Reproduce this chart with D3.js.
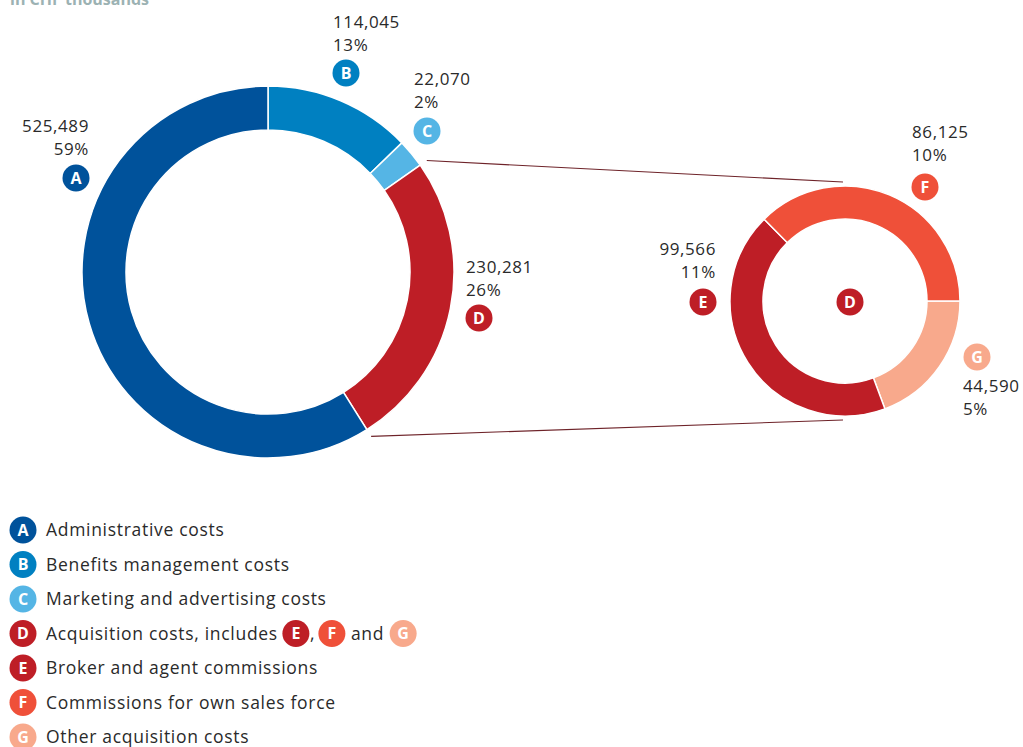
<!DOCTYPE html>
<html>
<head>
<meta charset="utf-8">
<script src="https://cdn.jsdelivr.net/npm/d3@7"></script>
<style>
  body { margin: 0; background: #fff; }
  svg { display: block; font-family: "Open Sans", "Noto Sans", sans-serif; }
  .val { font-size: 17px; fill: #2a2a2a; letter-spacing: 0.6px; }
  .legend text.lbl { font-size: 17.5px; fill: #2a2a2a; letter-spacing: 0.7px; }
</style>
</head>
<body>
<svg width="1023" height="747"></svg>
<script>
// data
const mainKeys = ["B", "C", "D", "A"];
const mainValues = [114045, 22070, 230281, 525489];
const mainPct = ["13%", "2%", "26%", "59%"];

const subKeys = ["G", "E", "F"];
const subValues = [44590, 99566, 86125];
const subPct = ["5%", "11%", "10%"];

const legendKeys = ["A", "B", "C", "D", "E", "F", "G"];
const legendNames = [
  "Administrative costs",
  "Benefits management costs",
  "Marketing and advertising costs",
  "Acquisition costs, includes",
  "Broker and agent commissions",
  "Commissions for own sales force",
  "Other acquisition costs"
];

const colors = {
  A: "#00529b", B: "#0080c1", C: "#55b5e5", D: "#be1e26",
  E: "#be1e26", F: "#ef5039", G: "#f8a98c"
};

const fmt = d3.format(",");
const svg = d3.select("svg");

// title (cut off at the top in the original)
svg.append("text")
  .attr("x", 10).attr("y", 5)
  .style("font-size", "16px").style("font-weight", 700)
  .style("fill", "#9cb2b3")
  .text("in CHF thousands");

function badge(parent, x, y, key) {
  const g = parent.append("g").attr("class", "badge")
    .attr("transform", `translate(${x},${y})`);
  g.append("circle").attr("r", 13.5).attr("fill", colors[key]);
  g.append("text")
    .attr("text-anchor", "middle")
    .attr("dy", "0.36em")
    .style("font-size", "16px")
    .style("font-weight", 700)
    .style("fill", "#fff")
    .text(key);
  return g;
}

// main donut
const main = {cx: 268, cy: 272, R: 186, r: 142};
const pie = d3.pie().sort(null).value(d => d.value);
const mainData = mainKeys.map((k, i) => ({key: k, value: mainValues[i], pct: mainPct[i]}));
const mainArcs = pie(mainData);
const arcMain = d3.arc().innerRadius(main.r).outerRadius(main.R);

const gMain = svg.append("g").attr("transform", `translate(${main.cx},${main.cy})`);
gMain.selectAll("path")
  .data(mainArcs)
  .enter().append("path")
    .attr("d", arcMain)
    .attr("fill", d => colors[d.data.key])
    .attr("stroke", "#fff")
    .attr("stroke-width", 1.5);

// sub donut (breakdown of D)
const sub = {cx: 845, cy: 301, R: 115, r: 82};
const subPie = d3.pie().sort(null).value(d => d.value)
  .startAngle(Math.PI / 2).endAngle(Math.PI / 2 + 2 * Math.PI);
const subData = subKeys.map((k, i) => ({key: k, value: subValues[i], pct: subPct[i]}));
const subArcs = subPie(subData);
const arcSub = d3.arc().innerRadius(sub.r).outerRadius(sub.R);

const gSub = svg.append("g").attr("transform", `translate(${sub.cx},${sub.cy})`);
gSub.selectAll("path")
  .data(subArcs)
  .enter().append("path")
    .attr("d", arcSub)
    .attr("fill", d => colors[d.data.key])
    .attr("stroke", "#fff")
    .attr("stroke-width", 1.5);

// connector lines from segment D to the sub donut
const dArc = mainArcs.find(d => d.data.key === "D");
const rOut = main.R + 8;
const conn = [
  [dArc.startAngle, -(sub.R + 4)],
  [dArc.endAngle, sub.R + 4]
];
svg.selectAll("line.conn")
  .data(conn)
  .enter().append("line")
    .attr("class", "conn")
    .attr("x1", d => main.cx + rOut * Math.sin(d[0]))
    .attr("y1", d => main.cy - rOut * Math.cos(d[0]))
    .attr("x2", sub.cx - 2)
    .attr("y2", d => sub.cy + d[1])
    .attr("stroke", "#6e2329")
    .attr("stroke-width", 1.1);

// value labels
const labelPos = {
  A: {x: 89, y: 132, anchor: "end", bx: 76, by: 178},
  B: {x: 333, y: 28, anchor: "start", bx: 346, by: 73},
  C: {x: 414, y: 85, anchor: "start", bx: 427, by: 131},
  D: {x: 466, y: 273, anchor: "start", bx: 479, by: 318},
  E: {x: 716, y: 255, anchor: "end", bx: 703, by: 302},
  F: {x: 912, y: 138, anchor: "start", bx: 925, by: 187},
  G: {x: 963, y: 392, anchor: "start", bx: 977, by: 357}
};

const allLabels = mainData.concat(subData);
allLabels.forEach(d => {
  const p = labelPos[d.key];
  const t = svg.append("text").attr("class", "val")
    .attr("text-anchor", p.anchor);
  t.append("tspan").attr("x", p.x).attr("y", p.y).text(fmt(d.value));
  t.append("tspan").attr("x", p.x).attr("y", p.y + 22.5).text(d.pct);
  badge(svg, p.bx, p.by, d.key);
});

// D marker in the centre of the sub donut
badge(svg, sub.cx + 5, sub.cy + 1, "D");

// legend
const legendY = d3.scalePoint().domain(legendKeys).range([530, 737]);
const legend = svg.append("g").attr("class", "legend");
let lblD;
legendKeys.forEach((k, i) => {
  const y = legendY(k);
  badge(legend, 23, y, k);
  const t = legend.append("text").attr("class", "lbl")
    .attr("x", 46).attr("y", y + 6)
    .text(legendNames[i]);
  if (k === "D") lblD = t;
});

// inline badges in the "includes" row
const dRowY = legendY("D");
let xx = 46 + lblD.node().getComputedTextLength() + 18;
badge(legend, xx, dRowY, "E");
legend.append("text").attr("class", "lbl").attr("x", xx + 14).attr("y", dRowY + 6).text(",");
xx += 36;
badge(legend, xx, dRowY, "F");
const andT = legend.append("text").attr("class", "lbl").attr("x", xx + 19).attr("y", dRowY + 6).text("and");
xx += 19 + andT.node().getComputedTextLength() + 19;
badge(legend, xx, dRowY, "G");
</script>
</body>
</html>
